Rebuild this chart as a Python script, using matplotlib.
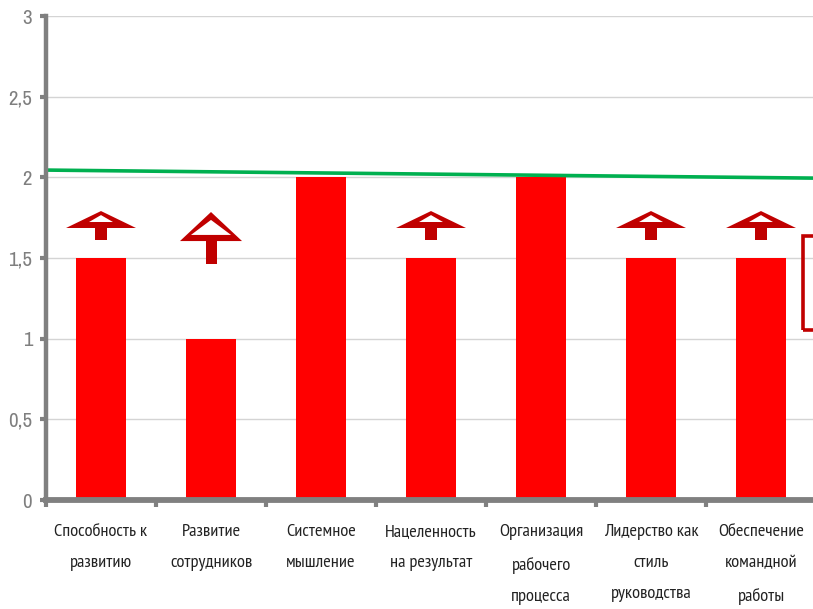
import matplotlib
matplotlib.use("Agg")
import matplotlib.pyplot as plt
from matplotlib.patches import Polygon, Rectangle
from matplotlib import font_manager
from matplotlib.ft2font import FT2Font

# Competency scores
categories = [
    "Способность к\nразвитию",
    "Развитие\nсотрудников",
    "Системное\nмышление",
    "Нацеленность\nна результат",
    "Организация\nрабочего\nпроцесса",
    "Лидерство как\nстиль\nруководства",
    "Обеспечение\nкомандной\nработы",
]
scores = [1.5, 1.0, 2.0, 1.5, 2.0, 1.5, 1.5]

# Target level line (start and end values)
target_line = [2.045, 1.995]

# Growth arrows: category index and size ("s" small, "l" large)
arrow_cats = [0, 1, 3, 5, 6]
arrow_sizes = ["s", "l", "s", "s", "s"]

y_ticks = [0, 0.5, 1, 1.5, 2, 2.5, 3]
y_tick_labels = ["0", "0,5", "1", "1,5", "2", "2,5", "3"]

CYR = set(map(ord, "".join(categories).replace("\n", "").replace(" ", "")))


def has_glyphs(fname, codes):
    try:
        cmap = FT2Font(fname).get_charmap()
    except Exception:
        return False
    return codes.issubset(cmap.keys())


def narrow_font(codes):
    """Pick a regular condensed sans face that covers the given characters."""
    best = None
    for f in font_manager.fontManager.ttflist:
        n = f.name.lower()
        fn = f.fname.lower()
        cond = ("condensed" in n or "narrow" in n or "condensed" in fn
                or "narrow" in fn or str(f.stretch) in ("condensed", "semi-condensed"))
        if not cond or "mono" in n or ("serif" in n and "sans" not in n):
            continue
        if f.style != "normal" or f.weight not in (400, "normal", "regular"):
            continue
        if any(k in fn for k in ("bold", "light", "italic", "oblique", "thin", "medium", "black")):
            continue
        if not has_glyphs(f.fname, codes):
            continue
        rank = 0 if ("narrow" in n or "narrow" in fn) else 1
        if best is None or rank < best[0]:
            best = (rank, f.fname)
    return best[1] if best else None


tick_path = narrow_font(set(map(ord, "0123456789,")))
cat_path = narrow_font(CYR)


def fp(path, size, fallback_size):
    if path:
        return font_manager.FontProperties(fname=path, size=size)
    return font_manager.FontProperties(family="Roboto", size=fallback_size)


W, H = 813, 609
fig = plt.figure(figsize=(W / 100, H / 100), dpi=100)
fig.patch.set_facecolor("white")
ax = fig.add_axes([46 / W, 1 - 500 / H, (816 - 46) / W, (500 - 16) / H])

x = list(range(len(categories)))
ax.bar(x, scores, width=0.455, color="#FF0000", zorder=3)

ax.plot([-0.5, 6.5], target_line, color="#00B050", lw=2.6, zorder=4,
        solid_capstyle="butt", clip_on=False)

ax.set_xlim(-0.5, 6.5)
ax.set_ylim(0, 3)

ax.set_yticks(y_ticks)
ax.set_yticklabels(y_tick_labels, color="#7f7f7f",
                   fontproperties=fp(tick_path, 15, 13))
ax.yaxis.grid(True, color="#d4d4d4", lw=1.0, zorder=0)
ax.set_axisbelow(True)

ax.set_xticks([i - 0.5 for i in range(len(categories) + 1)])
ax.set_xticklabels([])
ax.set_xticks(x, minor=True)
ax.set_xticklabels(categories, minor=True, color="#222222",
                   fontproperties=fp(cat_path, 13.2, 10.5),
                   linespacing=2.25, va="top")
ax.tick_params(axis="x", which="minor", length=0, pad=17.5)
ax.tick_params(axis="x", which="major", length=5, width=3, color="#808080",
               direction="out")
ax.tick_params(axis="y", length=4, width=3, color="#808080", pad=6)

for side in ("top", "right"):
    ax.spines[side].set_visible(False)
ax.spines["left"].set_color("#808080")
ax.spines["left"].set_linewidth(3.2)
ax.spines["bottom"].set_color("#808080")
ax.spines["bottom"].set_linewidth(4.2)
ax.spines["left"].set_zorder(5)
ax.spines["bottom"].set_zorder(5)

dark = "#C00000"
geom = {
    # top, head base, inner tip, inner base, stem bottom, half-width, inner half, stem half
    "s": (1.791, 1.686, 1.766, 1.723, 1.612, 0.318, 0.109, 0.055),
    "l": (1.785, 1.605, 1.736, 1.643, 1.463, 0.282, 0.182, 0.050),
}
for cx, sz in zip(arrow_cats, arrow_sizes):
    top, base, itip, ibase, bottom, hw, ihw, shw = geom[sz]
    ax.add_patch(Polygon([(cx - hw, base), (cx, top), (cx + hw, base)],
                         closed=True, color=dark, zorder=6, lw=0))
    ax.add_patch(Polygon([(cx - ihw, ibase), (cx, itip), (cx + ihw, ibase)],
                         closed=True, color="white", zorder=7, lw=0))
    ax.add_patch(Rectangle((cx - shw, bottom), 2 * shw, ibase - bottom,
                           color=dark, zorder=8, lw=0))

# Frame partly visible at the right edge
ax.add_patch(Rectangle((6.385, 1.055), 0.5, 0.58, fill=False, edgecolor=dark,
                       lw=2.6, zorder=6, clip_on=False))

fig.savefig("out.png", dpi=100)
